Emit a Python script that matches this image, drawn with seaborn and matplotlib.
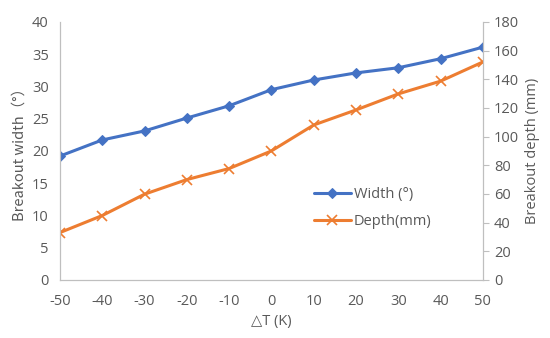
import seaborn as sns
import matplotlib.pyplot as plt
import pandas as pd

delta_t = [-50, -40, -30, -20, -10, 0, 10, 20, 30, 40, 50]
width = [19.2, 21.7, 23.1, 25.1, 27.0, 29.5, 31.0, 32.1, 32.9, 34.3, 36.1]
depth = [33.0, 44.9, 59.8, 70.0, 77.7, 90.0, 108.1, 118.6, 129.8, 138.7, 152.1]

df = pd.DataFrame({"dT": delta_t, "width": width, "depth": depth})

sns.set_style("white")
plt.rcParams["font.family"] = ["Open Sans", "DejaVu Sans"]
plt.rcParams["axes.unicode_minus"] = False
grey = "#595959"
axis_grey = "#bfbfbf"

fig = plt.figure(figsize=(5.5, 3.38), dpi=100)
ax = fig.add_axes([0.109, 0.172, 0.769, 0.763])
ax2 = ax.twinx()

# width on left axis
sns.lineplot(data=df, x="dT", y="width", ax=ax, color="#4472C4", lw=2.2,
             marker="D", markersize=5.5, markeredgecolor="#4472C4", label="Width (°)", legend=False)
# depth on right axis
sns.lineplot(data=df, x="dT", y="depth", ax=ax2, color="#ED7D31", lw=2.2,
             marker="x", markersize=6.5, markeredgewidth=1.2, markeredgecolor="#ED7D31",
             label="Depth(mm)", legend=False)

ax.set_xlim(-50, 50)
ax.set_ylim(0, 40)
ax2.set_ylim(0, 180)
ax.set_xticks(delta_t)
ax.set_yticks(range(0, 41, 5))
ax2.set_yticks(range(0, 181, 20))

ax.set_xlabel("△T (K)", color=grey, fontsize=10.5)
ax.set_ylabel("Breakout width（°）", color=grey, fontsize=10.5,
              family=["Noto Sans CJK SC", "DejaVu Sans"])
ax2.set_ylabel("Breakout depth (mm)", color=grey, fontsize=10.5)

for a in (ax, ax2):
    for s in a.spines.values():
        s.set_color(axis_grey)
    a.spines["top"].set_visible(False)
    a.grid(False)
ax.tick_params(axis="y", length=0, labelsize=10.5, labelcolor=grey, pad=8)
ax.tick_params(axis="x", length=4, color=axis_grey, labelsize=10.5, labelcolor=grey, pad=6)
ax2.tick_params(axis="y", length=4, color=axis_grey, labelsize=10.5, labelcolor=grey, pad=4)

h1, l1 = ax.get_legend_handles_labels()
h2, l2 = ax2.get_legend_handles_labels()
ax2.legend(h1 + h2, l1 + l2, loc="upper left", bbox_to_anchor=(0.57, 0.41),
           frameon=False, fontsize=10.5, labelcolor=grey, handlelength=2.5,
           handletextpad=0.2, labelspacing=0.8)

plt.savefig("out.png", dpi=100)
